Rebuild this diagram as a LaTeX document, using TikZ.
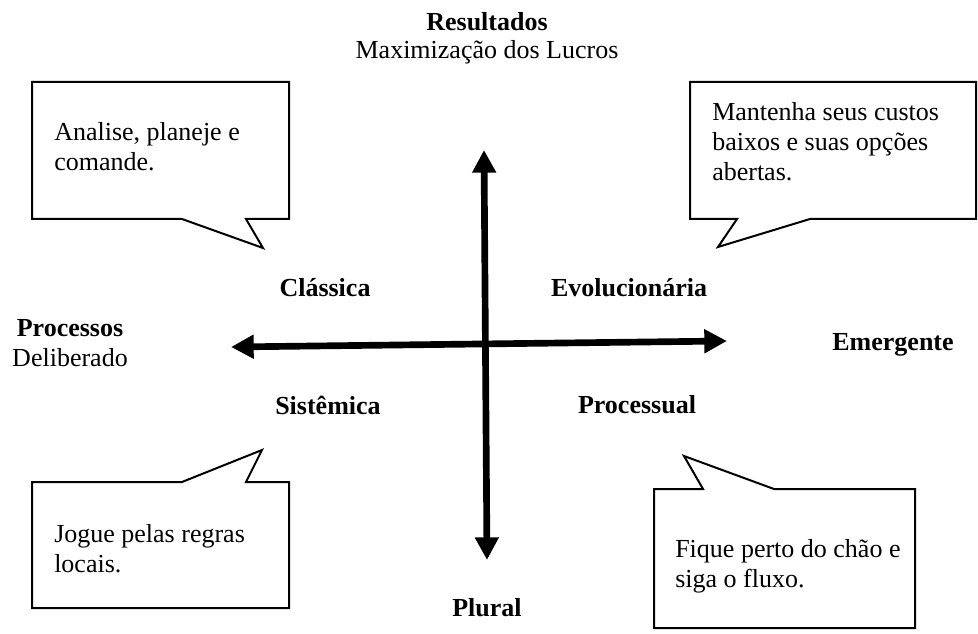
\documentclass[tikz,border=0pt]{standalone}
\usepackage{fontspec}
\setmainfont{Liberation Serif}
\usepackage{tikz}
\usetikzlibrary{arrows.meta}

\newcommand{\tamanho}{\fontsize{19.5}{22.5}\selectfont}

\tikzset{
  eixo/.style={line width=5pt, {Triangle[length=17pt,width=17pt]}-{Triangle[length=17pt,width=17pt]}},
  balao/.style={line width=1.5pt, line join=miter},
  rotulo/.style={font=\tamanho\bfseries, inner sep=0pt},
  fala/.style={align=left, anchor=north west, inner sep=0pt},
}

\begin{document}
\begin{tikzpicture}[x=0.75pt, y=-0.75pt, font=\tamanho]
    \useasboundingbox (0,0) rectangle (978,634);

    % eixos (ends of the two arrows)
    \coordinate (ytop) at (484,150);
    \coordinate (ybot) at (487,560);
    \coordinate (xleft) at (231,347);
    \coordinate (xright) at (727,341);
    \draw[eixo] (ybot) -- (ytop);
    \draw[eixo] (xleft) -- (xright);

    % extremos dos eixos
    \node[rotulo] (resultados) at (487,22) {Resultados};
    \node[inner sep=0pt] (lucros) at (487,52) {Maximização dos Lucros};
    \node[rotulo] (processos) at (70,328) {Processos};
    \node[inner sep=0pt] (deliberado) at (70,358) {Deliberado};
    \node[rotulo] (emergente) at (893,345) {Emergente};
    \node[rotulo] (plural) at (487,608) {Plural};

    % quadrantes
    \node[rotulo] (classica) at (325,288) {Clássica};
    \node[rotulo] (evolucionaria) at (629,288) {Evolucionária};
    \node[rotulo] (sistemica) at (328,405) {Sistêmica};
    \node[rotulo] (processual) at (637,405) {Processual};

    % baloes de fala
    \draw[balao] (32,82) -- (289,82) -- (289,219) -- (246,219) -- (263,248) -- (182,219) -- (32,219) -- cycle;
    \node[fala] (txtclassica) at (54,122) {Analise, planeje e\\comande.};

    \draw[balao] (690,82) -- (976,82) -- (976,219) -- (810,219) -- (718,247) -- (737,219) -- (690,219) -- cycle;
    \node[fala] (txtevolucionaria) at (712,102) {Mantenha seus custos\\baixos e suas opções\\abertas.};

    \draw[balao] (32,482) -- (182,482) -- (262,450) -- (246,482) -- (289,482) -- (289,608) -- (32,608) -- cycle;
    \node[fala] (txtsistemica) at (54,524) {Jogue pelas regras\\locais.};

    \draw[balao] (654,489) -- (703,489) -- (684,456) -- (774,489) -- (915,489) -- (915,628) -- (654,628) -- cycle;
    \node[fala] (txtprocessual) at (675,539) {Fique perto do chão e\\siga o fluxo.};
  \end{tikzpicture}
\end{document}
